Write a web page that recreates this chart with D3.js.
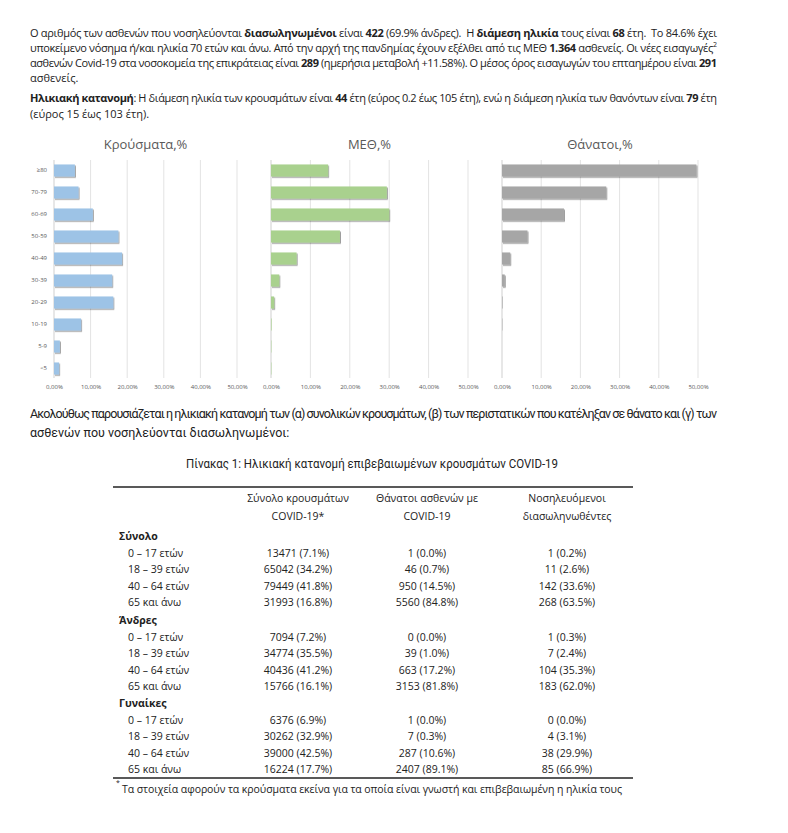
<!DOCTYPE html>
<html><head><meta charset="utf-8">
<script src="https://cdn.jsdelivr.net/npm/d3@7"></script>
<style>body{margin:0;background:#fff} svg{display:block} text{white-space:pre}</style>
</head><body><svg id="c" width="788" height="833"></svg>
<script>
// ---------- data ----------
const categories = ["≥80","70-79","60-69","50-59","40-49","30-39","20-29","10-19","5-9","<5"];
const casesPct  = [5.7, 6.7, 10.6, 17.6, 18.6, 15.9, 16.2, 7.4, 1.6, 1.4];
const icuPct    = [14.5, 29.4, 30.0, 17.5, 6.5, 2.1, 0.8, 0.15, 0.1, 0.1];
const deathsPct = [49.6, 26.6, 15.8, 6.5, 2.1, 0.7, 0.15, 0.1, 0, 0];
const xTicks = [0, 10, 20, 30, 40, 50];
const chartTitles = ["Κρούσματα,%", "ΜΕΘ,%", "Θάνατοι,%"];

const tableHeaders = [["Σύνολο κρουσμάτων","COVID-19*"],["Θάνατοι ασθενών με","COVID-19"],["Νοσηλευόμενοι","διασωληνωθέντες"]];
const tableSections = ["Σύνολο","Άνδρες","Γυναίκες"];
const ageGroups = ["0 – 17 ετών","18 – 39 ετών","40 – 64 ετών","65 και άνω"];
const totalCasesN = [13471, 65042, 79449, 31993], totalCasesP = [7.1, 34.2, 41.8, 16.8];
const totalDeathsN = [1, 46, 950, 5560],         totalDeathsP = [0.0, 0.7, 14.5, 84.8];
const totalIntubN = [1, 11, 142, 268],           totalIntubP = [0.2, 2.6, 33.6, 63.5];
const menCasesN = [7094, 34774, 40436, 15766],   menCasesP = [7.2, 35.5, 41.2, 16.1];
const menDeathsN = [0, 39, 663, 3153],           menDeathsP = [0.0, 1.0, 17.2, 81.8];
const menIntubN = [1, 7, 104, 183],              menIntubP = [0.3, 2.4, 35.3, 62.0];
const womenCasesN = [6376, 30262, 39000, 16224], womenCasesP = [6.9, 32.9, 42.5, 17.7];
const womenDeathsN = [1, 7, 287, 2407],          womenDeathsP = [0.0, 0.3, 10.6, 89.1];
const womenIntubN = [0, 4, 38, 85],              womenIntubP = [0.0, 3.1, 29.9, 66.9];
const footnote = "Τα στοιχεία αφορούν τα κρούσματα εκείνα για τα οποία είναι γνωστή και επιβεβαιωμένη η ηλικία τους";
const caption = "Πίνακας 1: Ηλικιακή κατανομή επιβεβαιωμένων κρουσμάτων COVID-19";

// ---------- drawing ----------
const svg = d3.select("#c");
svg.append("rect").attr("width",788).attr("height",833).attr("fill","#fff");
const defs = svg.append("defs");
const flt = defs.append("filter").attr("id","sh").attr("x","-20%").attr("y","-40%").attr("width","150%").attr("height","200%");
flt.append("feDropShadow").attr("dx",1).attr("dy",1.2).attr("stdDeviation",0.7).attr("flood-color","#000").attr("flood-opacity",0.4);

const bodyFont = "'Open Sans', 'Noto Sans', sans-serif";
const condFont = "'Liberation Sans Narrow', 'Roboto', sans-serif";

function richLine(x, y, segs, opts) {
  const t = svg.append("text").attr("x", x).attr("y", y)
    .attr("font-family", opts.font).attr("font-size", opts.size).attr("fill", "#222")
    .attr("dominant-baseline","central");
  if (opts.width) t.attr("textLength", opts.width).attr("lengthAdjust", "spacing");
  segs.forEach(s => {
    const ts = t.append("tspan").text(s[0]);
    if (s[1] === 1) ts.attr("font-weight", "bold");
    if (s[1] === 2) ts.attr("font-size", 7).attr("dy", -3);
  });
  return t;
}

const para1 = [
  [["Ο αριθμός των ασθενών που νοσηλεύονται ",0],["διασωληνωμένοι",1],[" είναι ",0],["422",1],[" (69.9% άνδρες).  Η ",0],["διάμεση ηλικία",1],[" τους είναι ",0],["68",1],[" έτη.  Το 84.6% έχει",0]],
  [["υποκείμενο νόσημα ή/και ηλικία 70 ετών και άνω. Από την αρχή της πανδημίας έχουν εξέλθει από τις ΜΕΘ ",0],["1.364",1],[" ασθενείς. Οι νέες εισαγωγές",0],["2",2]],
  [["ασθενών Covid-19 στα νοσοκομεία της επικράτειας είναι ",0],["289",1],[" (ημερήσια μεταβολή +11.58%). Ο μέσος όρος εισαγωγών του επταημέρου είναι ",0],["291",1]],
  [["ασθενείς.",0]],
  [["Ηλικιακή κατανομή",1],[": Η διάμεση ηλικία των κρουσμάτων είναι ",0],["44",1],[" έτη (εύρος 0.2 έως 105 έτη), ενώ η διάμεση ηλικία των θανόντων είναι ",0],["79",1],[" έτη",0]],
  [["(εύρος 15 έως 103 έτη).",0]]
];
const para1Y = [32, 47, 62, 77, 97, 113];
const para1Full = [true, true, true, false, true, false];
para1.forEach((l,i) => richLine(30, para1Y[i], l, {font: bodyFont, size: 11, width: para1Full[i] ? 687 : null}));

const para2 = [
  [["Ακολούθως παρουσιάζεται η ηλικιακή κατανομή των (α) συνολικών κρουσμάτων, (β) των περιστατικών που κατέληξαν σε θάνατο και (γ) των",0]],
  [["ασθενών που νοσηλεύονται διασωληνωμένοι:",0]]
];
richLine(30, 413, para2[0], {font: condFont, size: 12.5, width: 687});
richLine(30, 432, para2[1], {font: condFont, size: 12.5});

// ---------- charts ----------
const barColors = ["#9dc3e6", "#a9d18e", "#a6a6a6"];
const chartRanges = [[54, 237], [271, 468], [502, 698]];
const seriesList = [casesPct, icuPct, deathsPct];
const y = d3.scaleBand().domain(categories).range([159.5, 379.5]).paddingInner(0.45).paddingOuter(0.225);

seriesList.forEach((vals, ci) => {
  const x = d3.scaleLinear().domain([0, 50]).range(chartRanges[ci]);
  const g = svg.append("g");
  g.selectAll("line.grid").data(xTicks).join("line").attr("class","grid")
    .attr("x1", d => x(d)).attr("x2", d => x(d)).attr("y1", 160).attr("y2", 378)
    .attr("stroke", d => d === 0 ? "#cfcfcf" : "#e3e3e3").attr("stroke-width", 1);
  const ax = d3.axisBottom(x).tickValues(xTicks).tickSize(0).tickPadding(0)
    .tickFormat(d => d.toFixed(2).replace(".", ",") + "%");
  const axg = g.append("g").attr("transform", "translate(0,385)").call(ax);
  axg.select(".domain").remove();
  axg.selectAll("text").attr("font-size", 6).attr("fill", "#595959").attr("font-family", bodyFont);
  g.selectAll("rect.bar").data(vals.map((v,i) => ({v, c: categories[i]}))).join("rect").attr("class","bar")
    .attr("x", x(0)).attr("y", d => y(d.c)).attr("height", y.bandwidth())
    .attr("width", d => Math.max(0, x(d.v) - x(0))).attr("fill", barColors[ci])
    .attr("filter", "url(#sh)");
  if (ci === 0) {
    const ay = d3.axisLeft(y).tickSize(0).tickPadding(0);
    const ayg = g.append("g").attr("transform", `translate(${x(0)-7},0)`).call(ay);
    ayg.select(".domain").remove();
    ayg.selectAll("text").attr("font-size", 6).attr("fill", "#595959").attr("font-family", bodyFont);
  }
  g.append("text").attr("x", (chartRanges[ci][0] + chartRanges[ci][1]) / 2).attr("y", 144)
    .attr("text-anchor", "middle").attr("dominant-baseline", "central")
    .attr("font-family", bodyFont).attr("font-size", 13).attr("fill", "#595959")
    .text(chartTitles[ci]);
});

// ---------- table ----------
const tFont = bodyFont;
svg.append("text").attr("x", 372).attr("y", 463).attr("text-anchor","middle").attr("dominant-baseline","central")
  .attr("font-family", condFont).attr("font-size", 13).attr("fill","#222")
  .attr("textLength", 372).attr("lengthAdjust","spacingAndGlyphs").text(caption);

const colX = [298, 427, 567];
const tableLeft = 113, tableRight = 633;
svg.append("line").attr("x1", tableLeft).attr("x2", tableRight).attr("y1", 487).attr("y2", 487).attr("stroke", "#222").attr("stroke-width", 1.3);
tableHeaders.forEach((h, i) => {
  h.forEach((line, j) => {
    svg.append("text").attr("x", colX[i]).attr("y", 498 + j*18).attr("text-anchor","middle").attr("dominant-baseline","central")
      .attr("font-family", tFont).attr("font-size", 10.5).attr("fill", "#222").text(line);
  });
});
const sectionData = [
  [[totalCasesN,totalCasesP],[totalDeathsN,totalDeathsP],[totalIntubN,totalIntubP]],
  [[menCasesN,menCasesP],[menDeathsN,menDeathsP],[menIntubN,menIntubP]],
  [[womenCasesN,womenCasesP],[womenDeathsN,womenDeathsP],[womenIntubN,womenIntubP]]
];
const sectionY = [536, 620, 703];
const rowStep = 16.6;
tableSections.forEach((s, si) => {
  const y0 = sectionY[si];
  svg.append("text").attr("x", 119).attr("y", y0).attr("dominant-baseline","central")
    .attr("font-family", tFont).attr("font-size", 10.5).attr("font-weight","bold").attr("fill","#222").text(s);
  ageGroups.forEach((a, ri) => {
    const yy = y0 + (ri+1)*rowStep;
    svg.append("text").attr("x", 128).attr("y", yy).attr("dominant-baseline","central")
      .attr("font-family", tFont).attr("font-size", 10.5).attr("fill","#222").text(a);
    sectionData[si].forEach((col, ci) => {
      svg.append("text").attr("x", colX[ci]).attr("y", yy).attr("text-anchor","middle").attr("dominant-baseline","central")
        .attr("font-family", tFont).attr("font-size", 10.5).attr("fill","#222")
        .text(`${col[0][ri]} (${col[1][ri].toFixed(1)}%)`);
    });
  });
});
svg.append("line").attr("x1", tableLeft).attr("x2", tableRight).attr("y1", 778).attr("y2", 778).attr("stroke", "#222").attr("stroke-width", 1.3);
svg.append("text").attr("x", 116).attr("y", 785).attr("font-family", tFont).attr("font-size", 7).attr("fill","#222").text("*");
svg.append("text").attr("x", 122).attr("y", 789).attr("dominant-baseline","central").attr("font-family", tFont)
  .attr("font-size", 10.5).attr("fill","#222").attr("textLength", 500).attr("lengthAdjust","spacing").text(footnote);
</script></body></html>
